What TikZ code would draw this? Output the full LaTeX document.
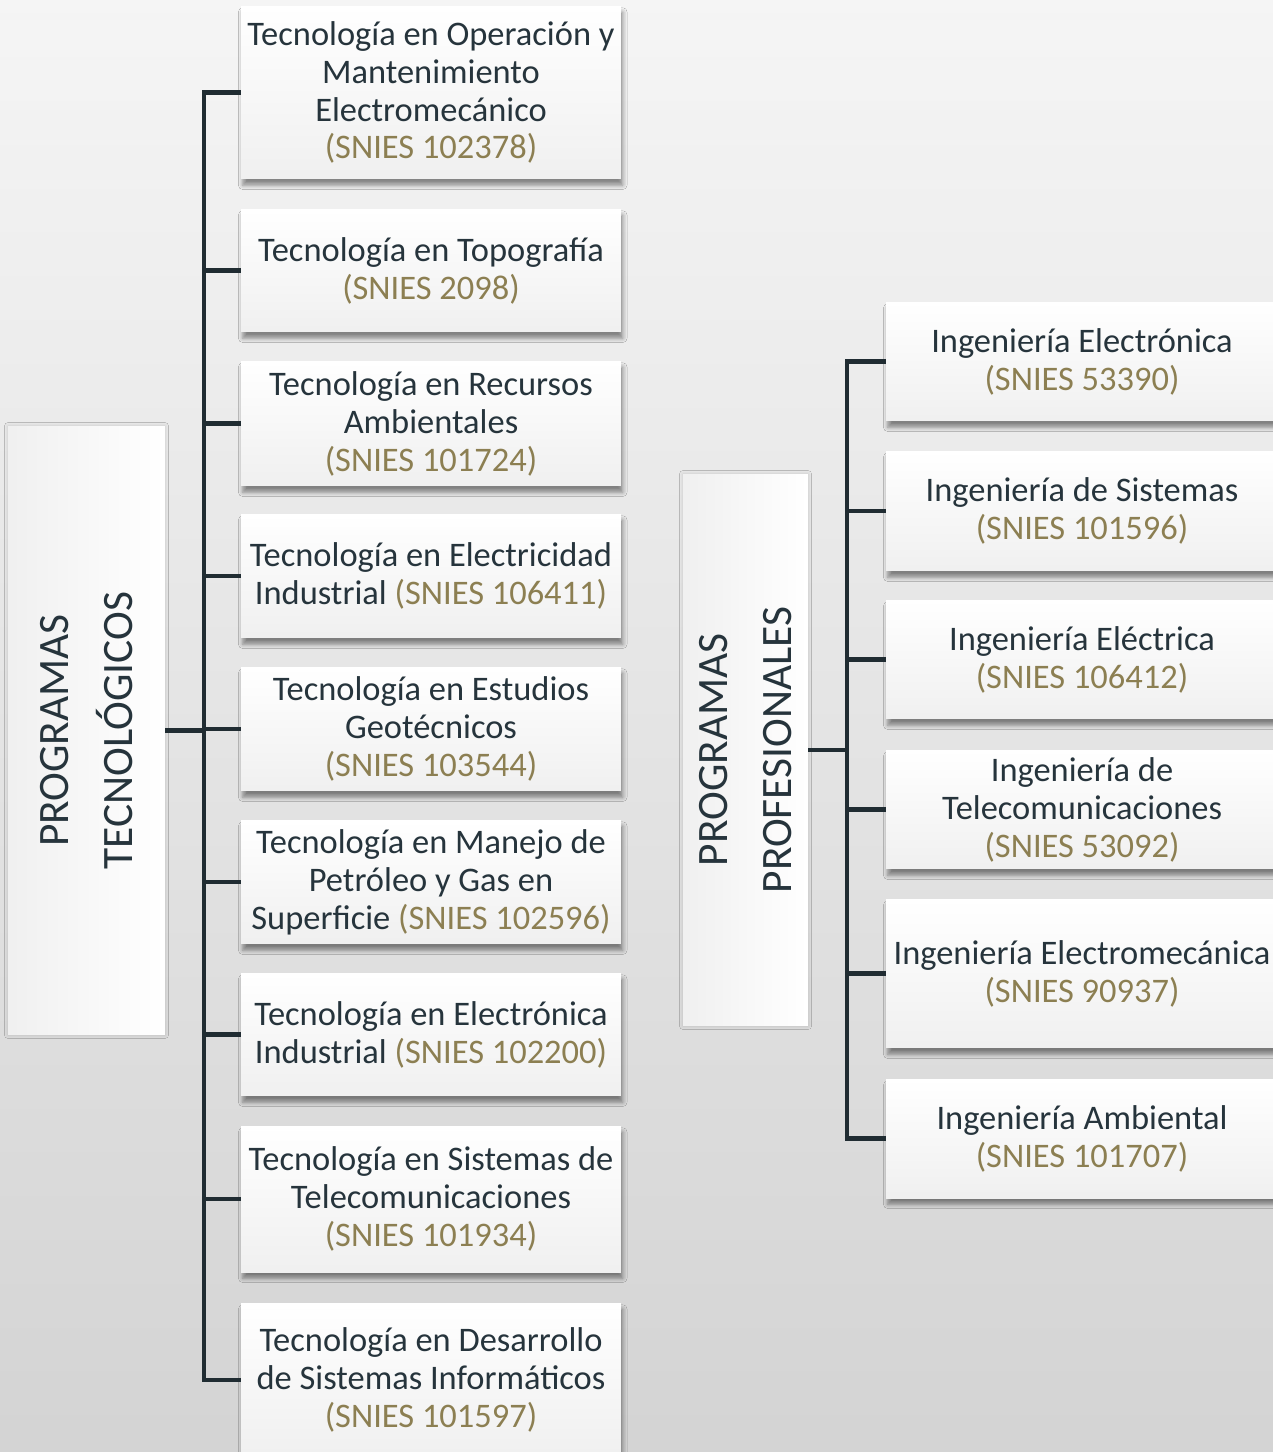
\documentclass[tikz,border=0pt]{standalone}
\usepackage{fontspec}
\setmainfont{Carlito}
\usetikzlibrary{shadows.blur}
\definecolor{txtdark}{RGB}{38,52,60}
\definecolor{sniescol}{RGB}{140,127,82}
\definecolor{linedark}{RGB}{32,44,50}
\newcommand{\codigo}[1]{\textcolor{sniescol}{(SNIES #1)}}

\begin{document}
\begin{tikzpicture}[x=0.02cm, y=-0.02cm,
    caja/.style={text=txtdark, align=center, inner sep=0pt},
    tec/.style={caja, top color=white, bottom color=black!6, minimum width=7.6cm,
      blur shadow={shadow xshift=1pt, shadow yshift=-3.5pt, shadow blur radius=2.5pt, shadow opacity=45},
      font=\fontsize{19.6}{21.6}\selectfont},
    ing/.style={caja, top color=white, bottom color=black!6, minimum width=7.84cm,
      blur shadow={shadow xshift=1pt, shadow yshift=-3.5pt, shadow blur radius=2.5pt, shadow opacity=45},
      font=\fontsize{19.6}{21.6}\selectfont},
    grupo/.style={caja, rotate=90, left color=black!6, right color=white,
      blur shadow={shadow xshift=0pt, shadow yshift=0pt, shadow blur radius=2pt, shadow opacity=18},
      font=\fontsize{24.7}{36.4}\selectfont},
    conn/.style={draw=linedark, line width=2.3pt}]

  % fondo
  \clip (0,0) rectangle (1273,1452);
  \fill[top color=black!4, bottom color=black!17] (0,0) rectangle (1273,1452);

  % programas tecnologicos
  \node[grupo, minimum width=12.18cm, minimum height=3.14cm] (tmain) at (86.5,730.5)
    {PROGRAMAS\\TECNOLÓGICOS};
  \node[tec, minimum height=3.46cm] (t1) at (431,92.5)
    {Tecnología en Operación y\\Mantenimiento\\Electromecánico\\\codigo{102378}};
  \node[tec, minimum height=2.46cm] (t2) at (431,270.5)
    {Tecnología en Topografía\\\codigo{2098}};
  \node[tec, minimum height=2.5cm] (t3) at (431,423.5)
    {Tecnología en Recursos\\Ambientales\\\codigo{101724}};
  \node[tec, minimum height=2.48cm] (t4) at (431,576)
    {Tecnología en Electricidad\\Industrial \codigo{106411}};
  \node[tec, minimum height=2.48cm] (t5) at (431,729)
    {Tecnología en Estudios\\Geotécnicos\\\codigo{103544}};
  \node[tec, minimum height=2.48cm] (t6) at (431,882)
    {Tecnología en Manejo de\\Petróleo y Gas en\\Superficie \codigo{102596}};
  \node[tec, minimum height=2.46cm] (t7) at (431,1034.5)
    {Tecnología en Electrónica\\Industrial \codigo{102200}};
  \node[tec, minimum height=2.92cm] (t8) at (431,1199)
    {Tecnología en Sistemas de\\Telecomunicaciones\\\codigo{101934}};
  \node[tec, minimum height=3.08cm] (t9) at (431,1380)
    {Tecnología en Desarrollo\\de Sistemas Informáticos\\\codigo{101597}};

  \coordinate (lt) at (204,730.5);
  \draw[conn] (tmain.south) -- (lt);
  \foreach \n in {1,...,9}
    \draw[conn] (lt) |- (t\n.west);

  % programas profesionales
  \node[grupo, minimum width=11.04cm, minimum height=2.5cm] (pmain) at (745.5,750)
    {PROGRAMAS\\PROFESIONALES};
  \node[ing, minimum height=2.38cm] (i1) at (1082,361.5)
    {Ingeniería Electrónica\\\codigo{53390}};
  \node[ing, minimum height=2.4cm] (i2) at (1082,511)
    {Ingeniería de Sistemas\\\codigo{101596}};
  \node[ing, minimum height=2.38cm] (i3) at (1082,659.5)
    {Ingeniería Eléctrica\\\codigo{106412}};
  \node[ing, minimum height=2.38cm] (i4) at (1082,809.5)
    {Ingeniería de\\Telecomunicaciones\\\codigo{53092}};
  \node[ing, minimum height=2.98cm] (i5) at (1082,973.5)
    {Ingeniería Electromecánica\\\codigo{90937}};
  \node[ing, minimum height=2.38cm] (i6) at (1082,1138.5)
    {Ingeniería Ambiental\\\codigo{101707}};

  \coordinate (rt) at (847,750);
  \draw[conn] (pmain.south) -- (rt);
  \foreach \n in {1,...,6}
    \draw[conn] (rt) |- (i\n.west);
\end{tikzpicture}
\end{document}
